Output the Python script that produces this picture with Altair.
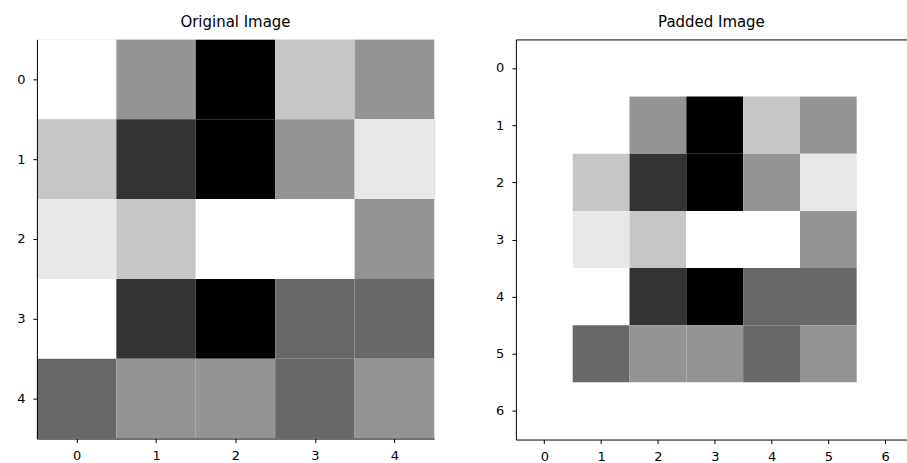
import altair as alt
import numpy as np
import pandas as pd

# Grey level (darkness, 0 = white, 255 = black) of each pixel, one list per row
row0 = [0, 107, 255, 57, 107]
row1 = [57, 204, 255, 107, 23]
row2 = [23, 57, 0, 0, 107]
row3 = [0, 204, 255, 151, 151]
row4 = [151, 107, 107, 151, 107]

original = np.array([row0, row1, row2, row3, row4])
padded = np.pad(original, 1, mode="constant", constant_values=0)

orig_ticks = [0, 1, 2, 3, 4]
pad_ticks = [0, 1, 2, 3, 4, 5, 6]


def to_frame(img):
    rows, cols = np.indices(img.shape)
    return pd.DataFrame({"row": rows.ravel(), "col": cols.ravel(), "v": img.ravel()})


FONT = "DejaVu Sans"
LABEL = dict(labelFont=FONT, labelFontSize=13, labelColor="#000000",
             tickColor="#000000", tickSize=4, domainColor="#000000", grid=False,
             zindex=1)
gray = alt.Scale(domain=[0, 255], range=["#ffffff", "#000000"], interpolate="rgb")


def base(img, xdom, ticks, extent):
    n = img.shape[0]
    ydom = [-0.5, n - 0.5]
    return (
        alt.Chart(to_frame(img))
        .transform_calculate(
            x0="datum.col - 0.5", x1="datum.col + 0.5",
            y0="datum.row - 0.5", y1="datum.row + 0.5",
        )
        .mark_rect(stroke=None, clip=True)
        .encode(
            x=alt.X("x0:Q", scale=alt.Scale(domain=xdom, nice=False, zero=False),
                    axis=alt.Axis(values=ticks, format="d", title=None,
                                  labelPadding=7, **LABEL)),
            x2="x1:Q",
            y=alt.Y("y0:Q", scale=alt.Scale(domain=ydom, nice=False, zero=False, reverse=True),
                    axis=alt.Axis(values=ticks, format="d", title=None, labelPadding=8,
                                  minExtent=extent, maxExtent=extent, **LABEL)),
            y2="y1:Q",
            color=alt.Color("v:Q", scale=gray, legend=None),
        )
    )


def title(text):
    return alt.TitleParams(text, font=FONT, fontSize=15, fontWeight="normal",
                           color="#000000", offset=9)


left = base(original, [-0.5, 4.5], orig_ticks, 36).properties(
    width=398, height=400, title=title("Original Image")
)

# The padded panel runs past the right edge of the page, so its frame is
# drawn from axis domains (left, bottom, top) rather than the view outline.
pad_main = base(padded, [-0.5, 6.383], pad_ticks, 36)
pad_top = (
    alt.Chart(to_frame(padded))
    .mark_rect(opacity=0)
    .encode(
        x=alt.X("col:Q", scale=alt.Scale(domain=[-0.5, 6.383], nice=False, zero=False),
                axis=alt.Axis(orient="top", labels=False, ticks=False, title=None,
                              domain=True, domainColor="#000000", grid=False, zindex=1)),
    )
)
right = (
    alt.layer(pad_main, pad_top)
    .resolve_axis(x="independent")
    .properties(width=392, height=401, title=title("Padded Image"),
                view=alt.ViewBackground(stroke=None))
)

chart = (
    alt.hconcat(left, right, spacing=45)
    .properties(padding={"left": 0, "top": 14, "right": 0, "bottom": 0})
    .configure_view(stroke="#000000", strokeWidth=1)
    .configure(background="white")
)

chart.save("out.html", embed_options={"renderer": "svg", "actions": False})
